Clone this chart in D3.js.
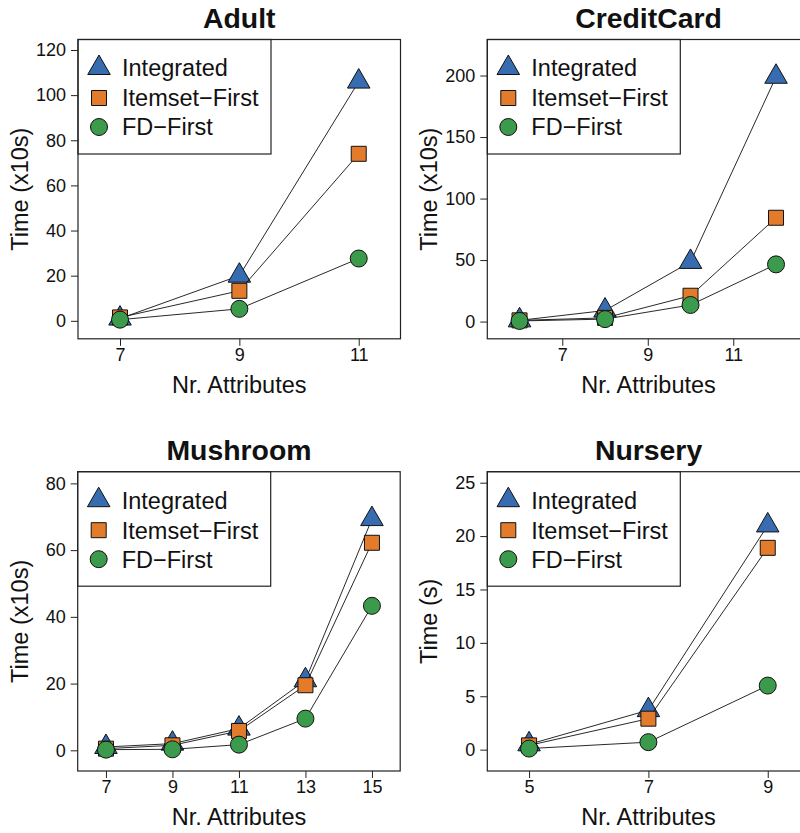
<!DOCTYPE html>
<html>
<head>
<meta charset="utf-8">
<script src="https://cdn.jsdelivr.net/npm/d3@7"></script>
<style>
  body { margin: 0; background: #fff; }
  svg text { font-family: "Liberation Sans", Arial, Helvetica, sans-serif; fill: #111; }
</style>
</head>
<body>
<svg id="chart" width="800" height="833"></svg>
<script>
// series names, in drawing order
var seriesNames = ["Integrated", "Itemset\u2212First", "FD\u2212First"];
var seriesColors = ["#386cb0", "#e37b2c", "#3c9a4c"];

// Adult
var adultAttrs = [7, 9, 11];
var adultIntegrated = [1, 20, 106];
var adultItemset = [1.5, 13.3, 74];
var adultFD = [0.5, 5.3, 27.6];
var adultYTicks = [0, 20, 40, 60, 80, 100, 120];
var adultXTicks = [7, 9, 11];

// CreditCard
var ccAttrs = [6, 8, 10, 12];
var ccIntegrated = [1, 9, 48.5, 199];
var ccItemset = [1, 3, 21, 84.4];
var ccFD = [0.5, 2, 13.5, 46.5];
var ccYTicks = [0, 50, 100, 150, 200];
var ccXTicks = [7, 9, 11];

// Mushroom
var mushAttrs = [7, 9, 11, 13, 15];
var mushIntegrated = [1, 2, 6.5, 21, 69.3];
var mushItemset = [0.5, 1.5, 5.8, 19.5, 62.2];
var mushFD = [0.2, 0.3, 1.7, 9.5, 43.3];
var mushYTicks = [0, 20, 40, 60, 80];
var mushXTicks = [7, 9, 11, 13, 15];

// Nursery
var nurAttrs = [5, 7, 9];
var nurIntegrated = [0.5, 3.7, 21];
var nurItemset = [0.4, 2.9, 18.9];
var nurFD = [0.1, 0.7, 6.0];
var nurYTicks = [0, 5, 10, 15, 20, 25];
var nurXTicks = [5, 7, 9];

var panels = [
    { title: "Adult", ylab: "Time (x10s)", x: adultAttrs, series: [adultIntegrated, adultItemset, adultFD],
      yTicks: adultYTicks, xTicks: adultXTicks, xDom: [6.296, 11.70], yDom: [-7.97, 124.65],
      left: 78, top: 39.5 },
    { title: "CreditCard", ylab: "Time (x10s)", x: ccAttrs, series: [ccIntegrated, ccItemset, ccFD],
      yTicks: ccYTicks, xTicks: ccXTicks, xDom: [5.246, 12.79], yDom: [-14.0, 229.3],
      left: 487.3, top: 39.5 },
    { title: "Mushroom", ylab: "Time (x10s)", x: mushAttrs, series: [mushIntegrated, mushItemset, mushFD],
      yTicks: mushYTicks, xTicks: mushXTicks, xDom: [6.15, 15.85], yDom: [-6.2, 83.5],
      left: 77.7, top: 471.7 },
    { title: "Nursery", ylab: "Time (s)", x: nurAttrs, series: [nurIntegrated, nurItemset, nurFD],
      yTicks: nurYTicks, xTicks: nurXTicks, xDom: [4.30, 9.705], yDom: [-2.0, 26.03],
      left: 487.3, top: 471.7 }
];

var boxW = 322.5, boxH = 299.3;
var svg = d3.select("#chart");

// R-style pch 24 triangle: point at centroid
var triR = 13;
var symbols = [
    d3.symbol().type(d3.symbolTriangle).size(Math.pow(triR / 2, 2) * Math.sqrt(3) * 3),
    d3.symbol().type(d3.symbolSquare).size(15 * 15),
    d3.symbol().type(d3.symbolCircle).size(Math.PI * 8.5 * 8.5)
];

panels.forEach(function (p) {
    var g = svg.append("g");
    var x = d3.scaleLinear().domain(p.xDom).range([p.left, p.left + boxW]);
    var y = d3.scaleLinear().domain(p.yDom).range([p.top + boxH, p.top]);

    // axes
    var yAxis = g.append("g")
        .attr("transform", "translate(" + p.left + ",0)")
        .call(d3.axisLeft(y).tickValues(p.yTicks).tickFormat(d3.format("d"))
            .tickSize(7).tickPadding(5).tickSizeOuter(0));
    var xAxis = g.append("g")
        .attr("transform", "translate(0," + (p.top + boxH) + ")")
        .call(d3.axisBottom(x).tickValues(p.xTicks).tickFormat(d3.format("d"))
            .tickSize(7).tickPadding(2).tickSizeOuter(0));
    [yAxis, xAxis].forEach(function (a) {
        a.select(".domain").remove();
        a.selectAll("line").attr("stroke", "#222").attr("stroke-width", 1);
        a.selectAll("text").attr("font-size", 18).attr("fill", "#111")
            .attr("font-family", '"Liberation Sans", Arial, sans-serif');
    });

    // series
    p.series.forEach(function (vals, si) {
        var pts = vals.map(function (v, i) { return [x(p.x[i]), y(v)]; });
        g.append("path")
            .attr("d", d3.line()(pts))
            .attr("fill", "none")
            .attr("stroke", "#111")
            .attr("stroke-width", 0.9);
        g.selectAll(null)
            .data(pts)
            .enter()
            .append("path")
            .attr("transform", function (d) { return "translate(" + d[0] + "," + d[1] + ")"; })
            .attr("d", symbols[si]())
            .attr("fill", seriesColors[si])
            .attr("stroke", "#111")
            .attr("stroke-width", 1);
    });

    // legend
    var lg = g.append("g").attr("transform", "translate(" + p.left + "," + p.top + ")");
    lg.append("rect")
        .attr("width", 193).attr("height", 114.5)
        .attr("fill", "#fff").attr("stroke", "#222").attr("stroke-width", 1.2);
    var rowY = [28.5, 58.5, 87.5];
    seriesNames.forEach(function (name, si) {
        lg.append("path")
            .attr("transform", "translate(21," + rowY[si] + ")")
            .attr("d", symbols[si]())
            .attr("fill", seriesColors[si])
            .attr("stroke", "#111")
            .attr("stroke-width", 1);
        lg.append("text")
            .attr("x", 44).attr("y", rowY[si]).attr("dy", "0.36em")
            .attr("font-size", 23.5)
            .text(name);
    });

    // frame
    g.append("rect")
        .attr("x", p.left).attr("y", p.top)
        .attr("width", boxW).attr("height", boxH)
        .attr("fill", "none").attr("stroke", "#222").attr("stroke-width", 1.2);

    // titles and labels
    var cx = p.left + boxW / 2;
    g.append("text")
        .attr("x", cx).attr("y", p.top - 11.8)
        .attr("text-anchor", "middle")
        .attr("font-size", 28.4).attr("font-weight", "bold")
        .text(p.title);
    g.append("text")
        .attr("x", cx).attr("y", p.top + boxH + 54.3)
        .attr("text-anchor", "middle")
        .attr("font-size", 23.5)
        .text("Nr. Attributes");
    g.append("text")
        .attr("transform", "translate(" + (p.left - 50) + "," + (p.top + boxH / 2) + ") rotate(-90)")
        .attr("text-anchor", "middle")
        .attr("font-size", 23.5)
        .text(p.ylab);
});
</script>
</body>
</html>
